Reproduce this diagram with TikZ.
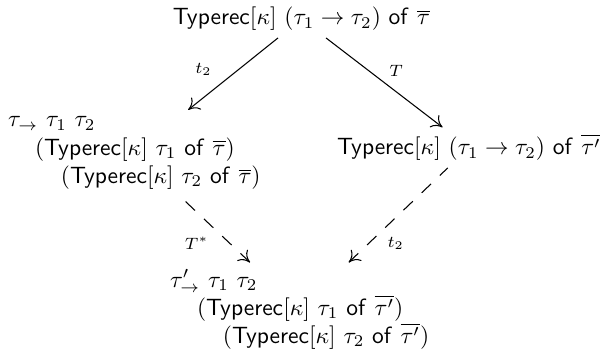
\documentclass[tikz,border=0pt]{standalone}
\usetikzlibrary{arrows.meta,decorations.markings}
\begin{document}
\begin{tikzpicture}[x=0.4255pt,y=-0.4255pt,
  term/.style={inner sep=0pt, outer sep=3pt},
  arr/.style={-{Computer Modern Rightarrow[length=4.5pt,width=6.5pt]}, line width=0.45pt},
  darrback/.style={line width=0.45pt, dash pattern=on 5.5pt off 5.2pt,
    decoration={markings, mark=at position 0 with
      {\pgfsetdash{}{0pt}\arrowreversed{Computer Modern Rightarrow[length=4.5pt,width=6.5pt]}}},
    postaction={decorate}},
  lab/.style={inner sep=0pt, font=\scriptsize}]
\useasboundingbox (0,0) rectangle (600,355);
\node[term, anchor=base] (top) at (301.5,25)
  {$\mathsf{Typerec}[\kappa]\ (\tau_1\to\tau_2)\ \mathsf{of}\ \overline{\tau}$};
\node[term, anchor=base west] (left) at (0.95,127)
  {\vtop{\hbox{$\tau_{\to}\ \tau_1\ \tau_2$}
         \hbox{\hspace*{11.5pt}$(\mathsf{Typerec}[\kappa]\ \tau_1\ \mathsf{of}\ \overline{\tau})$}
         \hbox{\hspace*{22.5pt}$(\mathsf{Typerec}[\kappa]\ \tau_2\ \mathsf{of}\ \overline{\tau})$}}};
\node[term, anchor=base] (right) at (469,155)
  {$\mathsf{Typerec}[\kappa]\ (\tau_1\to\tau_2)\ \mathsf{of}\ \overline{\tau'}$};
\node[term, anchor=base west] (bot) at (163,287)
  {\vtop{\hbox{$\tau'_{\to}\ \tau_1\ \tau_2$}
         \hbox{\hspace*{11.5pt}$(\mathsf{Typerec}[\kappa]\ \tau_1\ \mathsf{of}\ \overline{\tau'})$}
         \hbox{\hspace*{22.5pt}$(\mathsf{Typerec}[\kappa]\ \tau_2\ \mathsf{of}\ \overline{\tau'})$}}};
\draw[arr] (top) -- node[lab, pos=0.44, xshift=-14.9pt] {$t_2$} (left);
\draw[arr] (top) -- node[lab, pos=0.37, xshift=11.5pt] {$T$} (right);
\draw[darrback] (bot) -- node[lab, pos=0.29, xshift=-14pt] {$T^*$} (left);
\draw[darrback] (bot) -- node[lab, pos=0.2, xshift=11.5pt] {$t_2$} (right);
\end{tikzpicture}
\end{document}
